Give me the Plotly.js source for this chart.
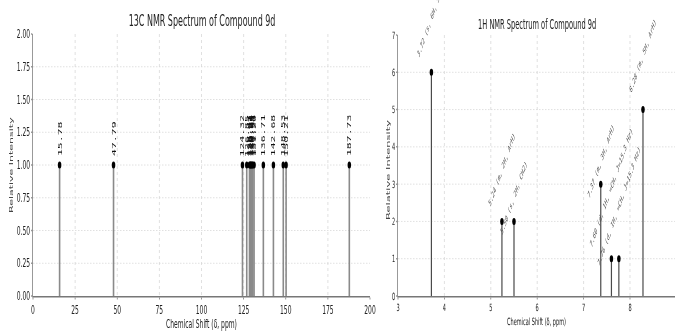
<!DOCTYPE html>
<html><head><meta charset="utf-8">
<script src="https://cdn.plot.ly/plotly-3.0.1.min.js"></script>
<style>
html,body{margin:0;padding:0;background:#fff;overflow:hidden}
#wrap{width:675px;height:331px;overflow:hidden}
#c{width:1350px;height:331px;transform:scaleX(0.5);transform-origin:0 0;filter:grayscale(100%)}
</style>
</head><body><div id="wrap"><div id="c"></div></div>
<script>
// 13C data
const cShifts = [15.78, 47.79, 124.32, 126.85, 128.47, 128.91, 129.24, 129.63, 130.05, 130.51, 131.20, 136.71, 142.68, 148.53, 150.21, 187.73];
const cIntensity = [1, 1, 1, 1, 1, 1, 1, 1, 1, 1, 1, 1, 1, 1, 1, 1];
// 1H data
const hShifts = [3.72, 5.24, 5.50, 7.37, 7.60, 7.76, 8.28];
const hIntensity = [6, 2, 2, 3, 1, 1, 5];
const hLabels = ["3.72 (s, 6H, SCH3)", "5.24 (m, 2H, ArH)", "5.50 (s, 2H, CH2)", "7.37 (m, 3H, ArH)",
  "7.60 (d, 1H, =CH, J=15.3 Hz)", "7.76 (d, 1H, =CH, J=15.3 Hz)", "8.28 (m, 5H, ArH)"];
const cTickVals = [0, 25, 50, 75, 100, 125, 150, 175, 200];
const hTickVals = [3, 4, 5, 6, 7, 8, 9];
// label placement offsets (layout only, in intensity units relative to the peak)
const hLabelOffset = [0.27, 0.3, -0.46, -0.48, 0.19, -0.3, 0.35];

const F = 'DejaVu Sans, sans-serif';
const MONO = 'DejaVu Sans Mono, monospace';
function stems(xs, ys) {
  const sx = [], sy = [];
  xs.forEach((x, i) => { sx.push(x, x, null); sy.push(0, ys[i], null); });
  return {sx, sy};
}
const cs = stems(cShifts, cIntensity);
const hs = stems(hShifts, hIntensity);

const traces = [
  {x: cs.sx, y: cs.sy, xaxis: 'x', yaxis: 'y', mode: 'lines', line: {color: '#8a8a8a', width: 3.2}, hoverinfo: 'skip'},
  {x: cShifts, y: cIntensity, xaxis: 'x', yaxis: 'y', mode: 'markers', marker: {color: '#000', size: 7}},
  {x: hs.sx, y: hs.sy, xaxis: 'x2', yaxis: 'y2', mode: 'lines', line: {color: '#4a4a4a', width: 2.4}, hoverinfo: 'skip'},
  {x: hShifts, y: hIntensity, xaxis: 'x2', yaxis: 'y2', mode: 'markers', marker: {color: '#000', size: 7}}
];

const annotations = [];
cShifts.forEach((x, i) => annotations.push({
  x: x, y: cIntensity[i] + 0.05, xref: 'x', yref: 'y', text: x.toFixed(2), showarrow: false,
  textangle: -90, xanchor: 'center', yanchor: 'bottom',
  font: {family: MONO, size: 11.5, color: '#111'}
}));
hShifts.forEach((x, i) => annotations.push({
  x: x, y: hIntensity[i] + hLabelOffset[i], xref: 'x2', yref: 'y2', text: '<i>' + hLabels[i] + '</i>', showarrow: false,
  textangle: -55, xanchor: 'center', yanchor: 'bottom',
  font: {family: MONO, size: 8.5, color: '#4d4d4d'}
}));
annotations.push({text: '13C NMR Spectrum of Compound 9d', x: 202/675, y: 1 - 20/331, xref: 'paper', yref: 'paper', showarrow: false, xanchor: 'center', yanchor: 'middle', font: {family: F, size: 16, color: '#222'}});
annotations.push({text: '1H NMR Spectrum of Compound 9d', x: 537/675, y: 1 - 24/331, xref: 'paper', yref: 'paper', showarrow: false, xanchor: 'center', yanchor: 'middle', font: {family: F, size: 13.3, color: '#222'}});
annotations.push({text: 'Relative Intensity', x: 11/675, y: 1 - 165/331, xref: 'paper', yref: 'paper', showarrow: false, textangle: -90, xanchor: 'center', yanchor: 'middle', font: {family: F, size: 11, color: '#444'}});
annotations.push({text: 'Relative Intensity', x: 388/675, y: 1 - 170/331, xref: 'paper', yref: 'paper', showarrow: false, textangle: -90, xanchor: 'center', yanchor: 'middle', font: {family: F, size: 11.5, color: '#444'}});

const axBase = {
  showgrid: true, gridcolor: '#d5d5d5', griddash: 'dot', gridwidth: 1,
  zeroline: false, showline: true, linecolor: '#777', linewidth: 1.5,
  ticks: 'outside', ticklen: 2, tickcolor: '#777', tickwidth: 1.5,
  tickfont: {family: F, size: 12, color: '#222'}, automargin: false
};
const layout = {
  width: 1350, height: 331, margin: {l: 0, r: 0, t: 0, b: 0},
  paper_bgcolor: '#fff', plot_bgcolor: '#fff', showlegend: false,
  xaxis: Object.assign({}, axBase, {domain: [33/675, 370/675], range: [0, 200], tickvals: cTickVals, anchor: 'y',
    title: {text: 'Chemical Shift (δ, ppm)', standoff: 11, font: {family: F, size: 12, color: '#222'}}}),
  yaxis: Object.assign({}, axBase, {domain: [35/331, 297/331], range: [0, 2], dtick: 0.25, tickformat: '.2f', anchor: 'x'}),
  xaxis2: Object.assign({}, axBase, {domain: [398/675, 1], range: [3, 8.97], tickvals: hTickVals, anchor: 'y2',
    tickfont: {family: F, size: 10, color: '#222'},
    title: {text: 'Chemical Shift (δ, ppm)', standoff: 5, font: {family: F, size: 10, color: '#222'}}}),
  yaxis2: Object.assign({}, axBase, {domain: [35/331, 296/331], range: [0, 7], dtick: 1, anchor: 'x2',
    tickfont: {family: F, size: 10, color: '#222'}}),
  annotations: annotations
};
Plotly.newPlot('c', traces, layout, {displayModeBar: false, staticPlot: true});
</script></body></html>
